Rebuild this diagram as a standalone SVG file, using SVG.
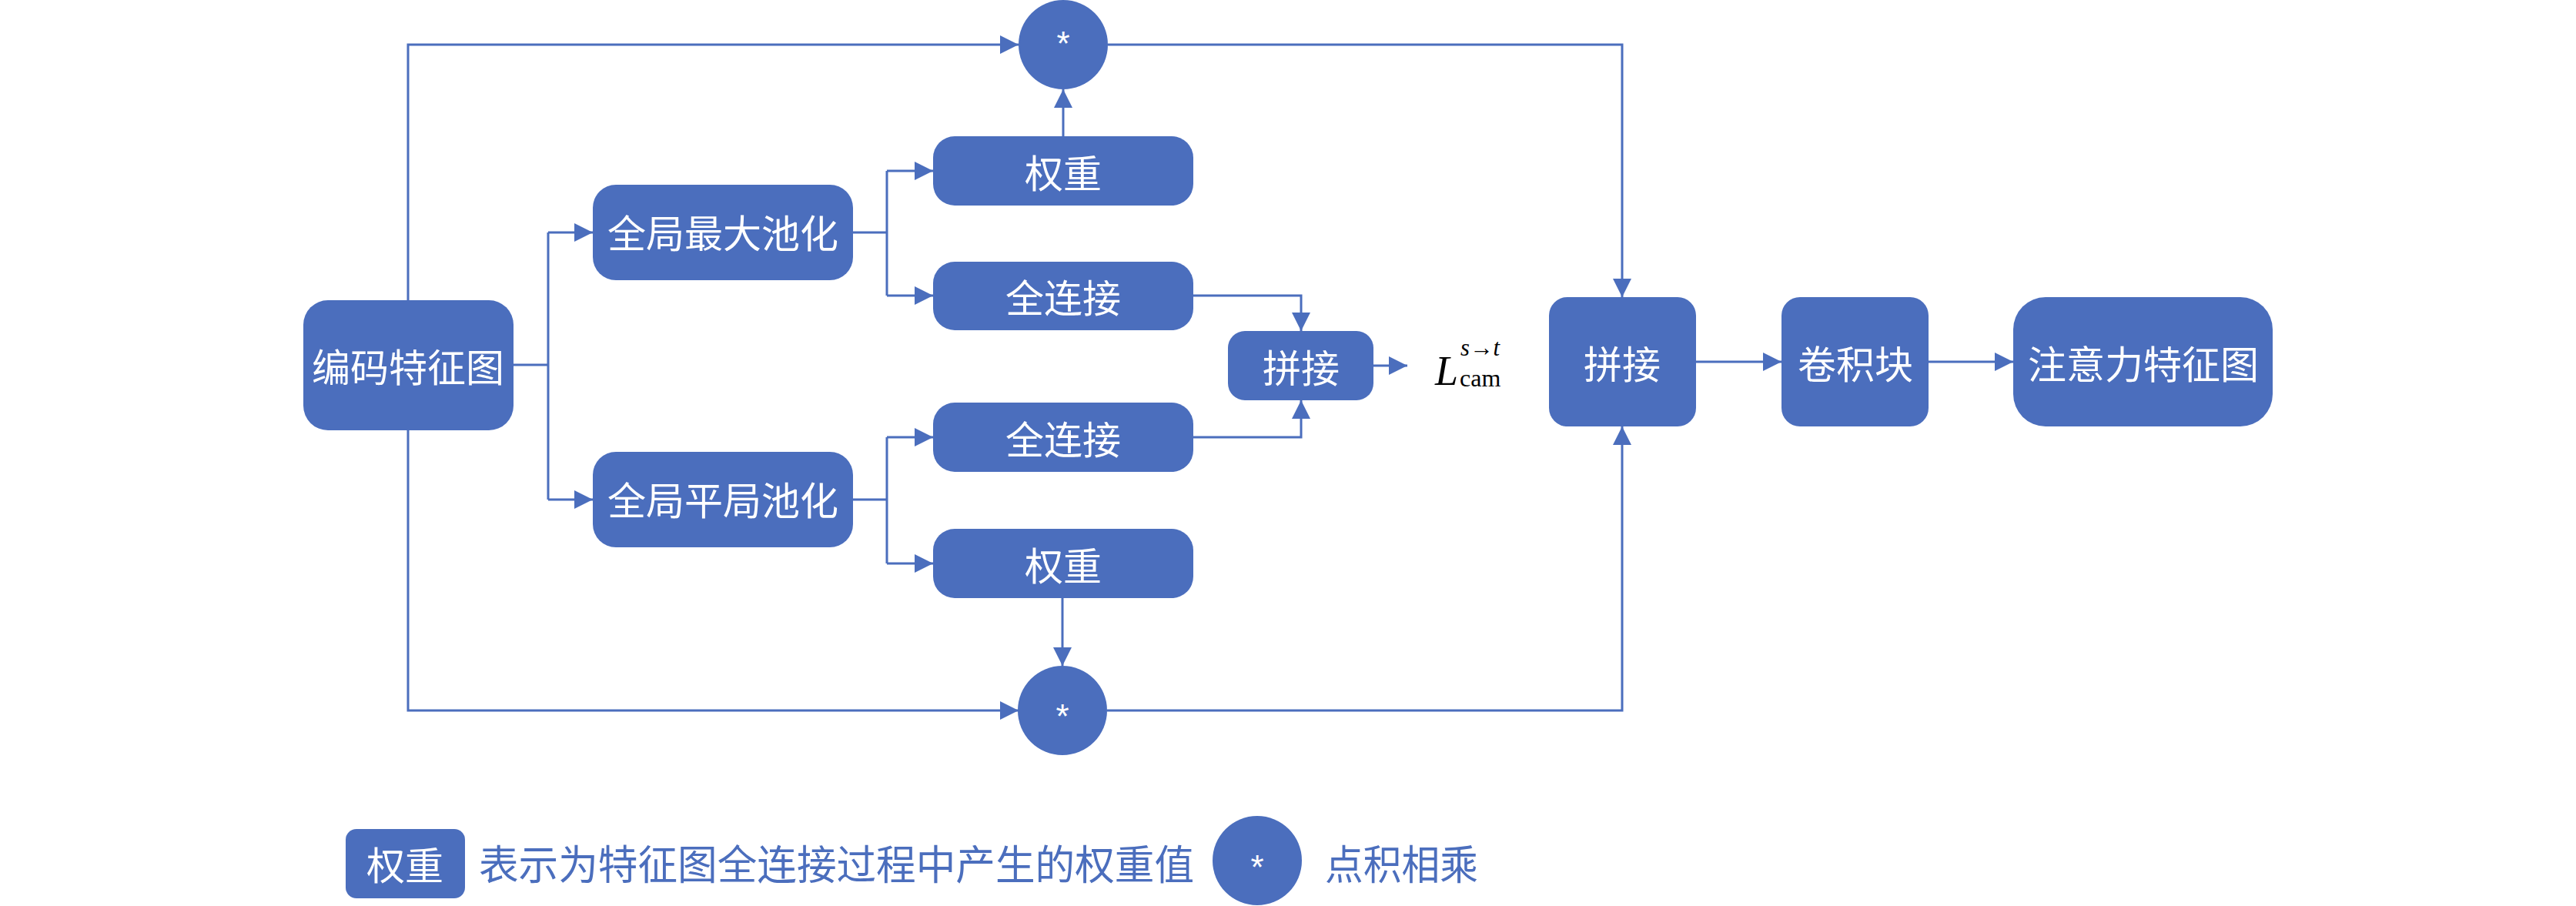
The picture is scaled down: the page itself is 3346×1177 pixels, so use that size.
<svg xmlns="http://www.w3.org/2000/svg" width="3346" height="1177" viewBox="0 0 3346 1177">
<style>
.n{fill:#4B6EBD}
.t{fill:#fff;font-family:"Noto Sans CJK SC",sans-serif;font-size:50px;text-anchor:middle;dominant-baseline:central}
.s{fill:#fff;font-family:"Liberation Sans",sans-serif;font-size:44px;text-anchor:middle}
.c path{fill:none;stroke:#4B6EBD;stroke-width:3}
.lg{fill:#4B6EBD;font-family:"Noto Sans CJK SC",sans-serif;font-size:53px;dominant-baseline:central}
.m{font-family:"Liberation Serif",serif;fill:#000}
</style>
<defs>
<marker id="a" markerUnits="userSpaceOnUse" markerWidth="26" markerHeight="26" refX="24" refY="12" orient="auto">
<path d="M0,0 L24,12 L0,24 Z" fill="#4B6EBD"/>
</marker>
</defs>
<rect width="3346" height="1177" fill="#fff"/>
<g class="c">
<path d="M667,474 H712 M712,302 V649"/>
<path d="M712,302 H770" marker-end="url(#a)"/>
<path d="M712,649 H770" marker-end="url(#a)"/>
<path d="M1108,302 H1152 M1152,222 V384"/>
<path d="M1152,222 H1212" marker-end="url(#a)"/>
<path d="M1152,384 H1212" marker-end="url(#a)"/>
<path d="M1108,649 H1152 M1152,568 V732"/>
<path d="M1152,568 H1212" marker-end="url(#a)"/>
<path d="M1152,732 H1212" marker-end="url(#a)"/>
<path d="M1381,177 V116" marker-end="url(#a)"/>
<path d="M1380,777 V865" marker-end="url(#a)"/>
<path d="M1550,384 H1690 V430" marker-end="url(#a)"/>
<path d="M1550,568 H1690 V520" marker-end="url(#a)"/>
<path d="M1784,475 H1828" marker-end="url(#a)"/>
<path d="M530,390 V58 H1323" marker-end="url(#a)"/>
<path d="M530,559 V923 H1323" marker-end="url(#a)"/>
<path d="M1439,58 H2107 V386" marker-end="url(#a)"/>
<path d="M1438,923 H2107 V554" marker-end="url(#a)"/>
<path d="M2203,470 H2314" marker-end="url(#a)"/>
<path d="M2505,470 H2615" marker-end="url(#a)"/>
</g>
<g id="enc"><rect class="n" x="394" y="390" width="273" height="169" rx="32"/><text class="t" x="530" y="474">编码特征图</text></g>
<g id="gmp"><rect class="n" x="770" y="240" width="338" height="124" rx="30"/><text class="t" x="939" y="300">全局最大池化</text></g>
<g id="gap"><rect class="n" x="770" y="587" width="338" height="124" rx="30"/><text class="t" x="939" y="647">全局平局池化</text></g>
<g id="w1"><rect class="n" x="1212" y="177" width="338" height="90" rx="28"/><text class="t" x="1381" y="222">权重</text></g>
<g id="fc1"><rect class="n" x="1212" y="340" width="338" height="89" rx="28"/><text class="t" x="1381" y="384">全连接</text></g>
<g id="fc2"><rect class="n" x="1212" y="523" width="338" height="90" rx="28"/><text class="t" x="1381" y="568">全连接</text></g>
<g id="w2"><rect class="n" x="1212" y="687" width="338" height="90" rx="28"/><text class="t" x="1381" y="732">权重</text></g>
<g id="c1"><circle class="n" cx="1381" cy="58" r="58"/><text class="s" x="1381" y="72">*</text></g>
<g id="c2"><circle class="n" cx="1380" cy="923" r="58"/><text class="s" x="1380" y="946">*</text></g>
<g id="cat1"><rect class="n" x="1595" y="430" width="189" height="90" rx="22"/><text class="t" x="1690" y="475">拼接</text></g>
<g id="loss"><text class="m" x="1864" y="500" font-size="54" font-style="italic">L</text><text class="m" x="1897" y="462" font-size="32" font-style="italic" textLength="51" lengthAdjust="spacingAndGlyphs">s→t</text><text class="m" x="1896" y="502" font-size="32">cam</text></g>
<g id="cat2"><rect class="n" x="2012" y="386" width="191" height="168" rx="24"/><text class="t" x="2107" y="470">拼接</text></g>
<g id="conv"><rect class="n" x="2314" y="386" width="191" height="168" rx="24"/><text class="t" x="2410" y="470">卷积块</text></g>
<g id="att"><rect class="n" x="2615" y="386" width="337" height="168" rx="42"/><text class="t" x="2784" y="470">注意力特征图</text></g>
<g id="legend">
<rect class="n" x="449" y="1077" width="155" height="90" rx="14"/><text class="t" x="526" y="1121" font-size="53">权重</text>
<text class="lg" x="622" y="1120" textLength="929" lengthAdjust="spacingAndGlyphs">表示为特征图全连接过程中产生的权重值</text>
<circle class="n" cx="1633" cy="1118" r="58"/><text class="s" x="1633" y="1142">*</text>
<text class="lg" x="1721" y="1120" font-size="50" textLength="199" lengthAdjust="spacingAndGlyphs">点积相乘</text>
</g>
</svg>
